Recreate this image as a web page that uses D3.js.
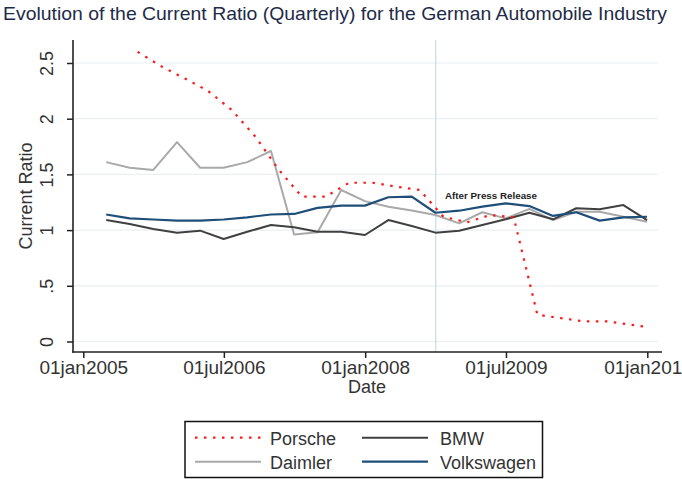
<!DOCTYPE html>
<html><head><meta charset="utf-8">
<script src="https://cdn.jsdelivr.net/npm/d3@7"></script>
<style>body{margin:0;background:#fff}svg{display:block}text{font-family:"Liberation Sans",Arial,sans-serif}</style>
</head><body><svg id="c" width="682" height="479"></svg>
<script>
const quarterDates = ["2005-03-31","2005-06-30","2005-09-30","2005-12-31","2006-03-31","2006-06-30","2006-09-30","2006-12-31",
"2007-03-31","2007-06-30","2007-09-30","2007-12-31","2008-03-31","2008-06-30","2008-09-30","2008-12-31",
"2009-03-31","2009-06-30","2009-09-30","2009-12-31","2010-03-31","2010-06-30","2010-09-30","2010-12-31"];
const porscheDates = ["2005-07-31","2005-10-31","2006-01-31","2006-04-30","2006-07-31","2006-10-31","2007-01-31","2007-04-30",
"2007-07-31","2007-10-31","2008-01-31","2008-04-30","2008-07-31","2008-10-31","2009-01-31","2009-04-30",
"2009-07-31","2009-10-31","2010-01-31","2010-04-30","2010-07-31","2010-10-31","2010-12-31"];
const porsche = [2.60,2.47,2.36,2.25,2.08,1.84,1.54,1.30,1.30,1.425,1.425,1.39,1.36,1.12,1.07,1.135,1.115,0.24,0.21,0.18,0.18,0.15,0.13];
const bmw = [1.09,1.055,1.01,0.977,0.995,0.92,0.985,1.046,1.025,0.985,0.985,0.956,1.09,1.037,0.977,0.995,1.046,1.097,1.156,1.097,1.196,1.187,1.225,1.09];
const daimler = [1.61,1.56,1.54,1.79,1.56,1.56,1.61,1.71,0.96,0.98,1.36,1.26,1.21,1.175,1.135,1.06,1.16,1.105,1.19,1.09,1.165,1.165,1.12,1.075];
const volkswagen = [1.14,1.105,1.095,1.085,1.085,1.095,1.115,1.14,1.145,1.20,1.22,1.22,1.295,1.30,1.156,1.174,1.21,1.24,1.216,1.127,1.16,1.085,1.115,1.12];
const yTicks = [0,0.5,1,1.5,2,2.5];
const yTickLabels = ["0",".5","1","1.5","2","2.5"];
const xTickDates = ["2005-01-01","2006-07-01","2008-01-01","2009-07-01","2011-01-01"];
const xTickLabels = ["01jan2005","01jul2006","01jan2008","01jul2009","01jan2011"];
const eventDate = "2008-10-01";
const title = "Evolution of the Current Ratio (Quarterly) for the German Automobile Industry";

const parse = d3.timeParse("%Y-%m-%d");
const svg = d3.select("#c");
const L = 73, R = 662, T = 40, B = 352;
const x = d3.scaleTime().domain([parse("2005-01-01"), parse("2011-01-01")]).range([83.3, 647.3]);
const y = d3.scaleLinear().domain([0, 2.5]).range([341.5, 63]);

svg.append("text").attr("x",3).attr("y",20).attr("font-size",19).attr("fill","#1e2b48")
  .attr("textLength",664).attr("lengthAdjust","spacingAndGlyphs").text(title);

// grid
svg.append("g").selectAll("line").data(yTicks).join("line")
  .attr("x1",L).attr("x2",658).attr("y1",d=>y(d)).attr("y2",d=>y(d))
  .attr("stroke","#eaeff2").attr("stroke-width",1.2);

// event line
svg.append("line").attr("x1",x(parse(eventDate))).attr("x2",x(parse(eventDate)))
  .attr("y1",T).attr("y2",B).attr("stroke","#c9dbe6").attr("stroke-width",1.2);

// axes
const ya = svg.append("g").attr("transform",`translate(${L},0)`)
  .call(d3.axisLeft(y).tickValues(yTicks).tickSize(6).tickPadding(0).tickFormat((d,i)=>yTickLabels[i]));
ya.select(".domain").remove();
ya.selectAll(".tick line").attr("stroke","#222").attr("stroke-width",1.5);
ya.selectAll(".tick text").attr("font-size",18).attr("fill","#333").attr("text-anchor","middle")
  .attr("x",null).attr("dy",null).attr("transform","translate(-20,0) rotate(-90)");
svg.append("line").attr("x1",L).attr("x2",L).attr("y1",T).attr("y2",B+0.75).attr("stroke","#222").attr("stroke-width",1.6);

const xa = svg.append("g").attr("transform",`translate(0,${B})`)
  .call(d3.axisBottom(x).tickValues(xTickDates.map(parse)).tickSize(6).tickPadding(3).tickFormat((d,i)=>xTickLabels[i]));
xa.select(".domain").remove();
xa.selectAll(".tick line").attr("stroke","#222").attr("stroke-width",1.5);
xa.selectAll(".tick text").attr("font-size",19).attr("fill","#333").attr("dy","0.71em");
svg.append("line").attr("x1",L-0.75).attr("x2",R).attr("y1",B).attr("y2",B).attr("stroke","#222").attr("stroke-width",1.6);

svg.append("text").attr("x",367).attr("y",393).attr("text-anchor","middle").attr("font-size",18).attr("fill","#333").text("Date");
svg.append("text").attr("transform","translate(32,196) rotate(-90)").attr("text-anchor","middle").attr("font-size",18).attr("fill","#333").text("Current Ratio");

// series
const line = d3.line().x(d=>x(d[0])).y(d=>y(d[1]));
const series = [
  {name:"Porsche", dates:porscheDates, vals:porsche, color:"#ff1a1a", w:2.2, dash:"2.5,6.5"},
  {name:"BMW", dates:quarterDates, vals:bmw, color:"#404040", w:2, dash:null},
  {name:"Daimler", dates:quarterDates, vals:daimler, color:"#a9a9a9", w:2, dash:null},
  {name:"Volkswagen", dates:quarterDates, vals:volkswagen, color:"#1f4e79", w:2.2, dash:null}
];
const drawOrder = [2,1,3,0];
drawOrder.forEach(i=>{
  const s = series[i];
  svg.append("path").datum(s.dates.map((d,j)=>[parse(d), s.vals[j]]))
    .attr("d",line).attr("fill","none").attr("stroke",s.color).attr("stroke-width",s.w)
    .attr("stroke-dasharray",s.dash).attr("stroke-linejoin","round");
});

// annotation
svg.append("text").attr("x",445).attr("y",199).attr("font-size",9).attr("font-weight","bold")
  .attr("fill","#222").attr("textLength",92).attr("lengthAdjust","spacingAndGlyphs").text("After Press Release");

// legend
const lg = svg.append("g");
lg.append("rect").attr("x",185).attr("y",421.5).attr("width",357.5).attr("height",56).attr("fill","#fff").attr("stroke","#111").attr("stroke-width",1.5);
const pos = [[195,437.7],[362,437.7],[195,461.7],[362,461.7]];
series.forEach((s,i)=>{
  const [lx,ly] = pos[i===1?1:i===2?2:i];
  lg.append("line").attr("x1",lx).attr("x2",lx+66).attr("y1",ly).attr("y2",ly)
    .attr("stroke",s.color).attr("stroke-width",s.w).attr("stroke-dasharray",s.dash);
  lg.append("text").attr("x",lx+75+(i%2===1?3:0)).attr("y",ly+7).attr("font-size",18).attr("fill","#333").text(s.name);
});
</script></body></html>
